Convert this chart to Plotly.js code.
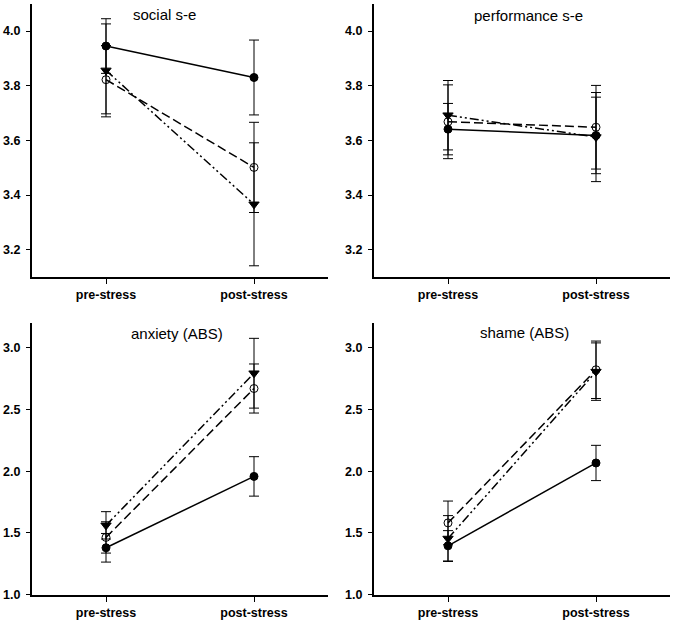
<!DOCTYPE html>
<html><head><meta charset="utf-8">
<script src="https://cdn.plot.ly/plotly-3.0.1.min.js"></script>
<style>body{margin:0;padding:0;background:#fff}#chart{width:675px;height:624px}</style>
</head><body><div id="chart"></div>
<script>
const categories = ['pre-stress', 'post-stress'];
const panelTitles = ['social s-e', 'performance s-e', 'anxiety (ABS)', 'shame (ABS)'];

// series: filled circle (solid), open circle (dashed), filled triangle (dash-dot-dot)
const socialFilled = [3.945, 3.830];
const socialFilledErr = [0.10, 0.137];
const socialOpen = [3.822, 3.501];
const socialOpenErr = [0.125, 0.165];
const socialTri = [3.856, 3.366];
const socialTriErr = [0.17, 0.225];

const perfFilled = [3.641, 3.618];
const perfFilledErr = [0.094, 0.14];
const perfOpen = [3.668, 3.648];
const perfOpenErr = [0.135, 0.153];
const perfTri = [3.692, 3.612];
const perfTriErr = [0.127, 0.163];

const anxFilled = [1.379, 1.958];
const anxFilledErr = [0.116, 0.16];
const anxOpen = [1.463, 2.671];
const anxOpenErr = [0.127, 0.199];
const anxTri = [1.561, 2.795];
const anxTriErr = [0.111, 0.283];

const shameFilled = [1.395, 2.067];
const shameFilledErr = [0.123, 0.143];
const shameOpen = [1.581, 2.823];
const shameOpenErr = [0.177, 0.233];
const shameTri = [1.454, 2.808];
const shameTriErr = [0.186, 0.233];

const panels = [
  [socialFilled, socialFilledErr, socialOpen, socialOpenErr, socialTri, socialTriErr],
  [perfFilled, perfFilledErr, perfOpen, perfOpenErr, perfTri, perfTriErr],
  [anxFilled, anxFilledErr, anxOpen, anxOpenErr, anxTri, anxTriErr],
  [shameFilled, shameFilledErr, shameOpen, shameOpenErr, shameTri, shameTriErr]
];

const styles = [
  {symbol: 'circle', size: 8, dash: 'solid', lw: 1},
  {symbol: 'circle-open', size: 8, dash: '9px,4px', lw: 1},
  {symbol: 'triangle-down', size: 9, dash: '9px,3px,2px,3px,2px,3px', lw: 1}
];

const traces = [];
panels.forEach((p, i) => {
  const ax = i === 0 ? '' : String(i + 1);
  [1, 2, 0].forEach(s => {
    const st = styles[s];
    traces.push({
      type: 'scatter', mode: 'lines+markers',
      x: categories, y: p[s * 2],
      xaxis: 'x' + ax, yaxis: 'y' + ax,
      line: {color: '#000', width: 1.5, dash: st.dash},
      marker: {symbol: st.symbol, size: st.size, color: '#000', line: {color: '#000', width: st.lw}},
      error_y: {type: 'data', array: p[s * 2 + 1], visible: true, color: '#000', thickness: 1, width: 5},
      showlegend: false, hoverinfo: 'skip'
    });
  });
});

const xL = [32 / 675, 328 / 675], xR = [374 / 675, 670 / 675];
const yT = [(624 - 277) / 624, (624 - 3.7) / 624], yB = [(624 - 594.5) / 624, (624 - 323.3) / 624];
const tf = {family: 'Liberation Sans, Arial, sans-serif', size: 12.5, color: '#000', weight: 'bold'};

function xa(dom, anchor) {
  return {domain: dom, anchor: anchor, type: 'category', range: [-0.5, 1.5],
    showline: true, linewidth: 2, linecolor: '#000', showgrid: false, zeroline: false,
    ticks: 'outside', ticklen: 5, tickwidth: 1, tickcolor: '#000', tickfont: tf};
}
function ya(dom, anchor, range, dtick) {
  return {domain: dom, anchor: anchor, range: range, dtick: dtick, tick0: 0,
    showline: true, linewidth: 2, linecolor: '#000', showgrid: false, zeroline: false,
    ticks: 'outside', ticklen: 4, tickwidth: 1, tickcolor: '#000', ticklabelstandoff: 3,
    tickformat: '.1f', tickfont: tf};
}

const ann = [
  {x: 164 / 675, y: (624 - 14) / 624},
  {x: 528 / 675, y: (624 - 15) / 624},
  {x: 177 / 675, y: (624 - 333) / 624},
  {x: 524 / 675, y: (624 - 332) / 624}
].map((a, i) => ({x: a.x, y: a.y, xref: 'paper', yref: 'paper', text: panelTitles[i], showarrow: false,
  xanchor: 'center', yanchor: 'middle',
  font: {family: 'Liberation Sans, Arial, sans-serif', size: 15, color: '#000'}}));

const layout = {
  width: 675, height: 624, margin: {l: 0, r: 0, t: 0, b: 0},
  paper_bgcolor: '#fff', plot_bgcolor: '#fff', showlegend: false,
  xaxis: xa(xL, 'y'), yaxis: ya(yT, 'x', [3.1, 4.1], 0.2),
  xaxis2: xa(xR, 'y2'), yaxis2: ya(yT, 'x2', [3.1, 4.1], 0.2),
  xaxis3: xa(xL, 'y3'), yaxis3: ya(yB, 'x3', [1.0, 3.2], 0.5),
  xaxis4: xa(xR, 'y4'), yaxis4: ya(yB, 'x4', [1.0, 3.2], 0.5),
  annotations: ann
};

Plotly.newPlot('chart', traces, layout, {staticPlot: true, displayModeBar: false});
</script></body></html>
